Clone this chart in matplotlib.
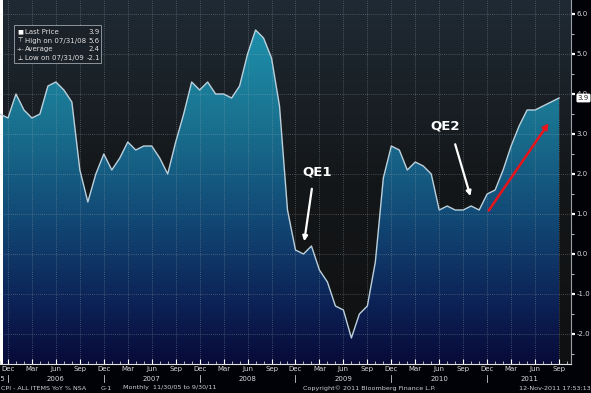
import numpy as np
import matplotlib
matplotlib.use('Agg')
import matplotlib.pyplot as plt
from matplotlib.colors import LinearSegmentedColormap
from matplotlib.transforms import blended_transform_factory
from matplotlib.patches import Rectangle

# CPI YoY % (mensual, 11/2005 a 9/2011)
cpi_2005 = [3.5, 3.4]
cpi_2006 = [4.0, 3.6, 3.4, 3.5, 4.2, 4.3, 4.1, 3.8, 2.1, 1.3, 2.0, 2.5]
cpi_2007 = [2.1, 2.4, 2.8, 2.6, 2.7, 2.7, 2.4, 2.0, 2.8, 3.5, 4.3, 4.1]
cpi_2008 = [4.3, 4.0, 4.0, 3.9, 4.2, 5.0, 5.6, 5.4, 4.9, 3.7, 1.1, 0.1]
cpi_2009 = [0.0, 0.2, -0.4, -0.7, -1.3, -1.4, -2.1, -1.5, -1.3, -0.2, 1.9, 2.7]
cpi_2010 = [2.6, 2.1, 2.3, 2.2, 2.0, 1.1, 1.2, 1.1, 1.1, 1.2, 1.1, 1.5]
cpi_2011 = [1.6, 2.1, 2.7, 3.2, 3.6, 3.6, 3.7, 3.8, 3.9]
cpi = np.array(cpi_2005 + cpi_2006 + cpi_2007 + cpi_2008 + cpi_2009 + cpi_2010 + cpi_2011)

month_names = ['Jan', 'Feb', 'Mar', 'Apr', 'May', 'Jun', 'Jul', 'Aug', 'Sep', 'Oct', 'Nov', 'Dec']
first_month = 11   # noviembre
first_year = 2005
years = [2005, 2006, 2007, 2008, 2009, 2010, 2011]

legend_labels = ['Last Price', 'High on 07/31/08', 'Average', 'Low on 07/31/09']
legend_values = ['3.9', '5.6', '2.4', '-2.1']

# indice de mes
x = np.arange(len(cpi))
mes = [(first_month - 1 + i) % 12 + 1 for i in x]
anio = [first_year + (first_month - 1 + i) // 12 for i in x]

xmin, xmax = 0.38, 71.5
ymin, ymax = -2.75, 6.35

fig = plt.figure(figsize=(5.91, 3.93), dpi=100, facecolor='#010208')
ax = fig.add_axes([0, 29/393, 571/591, 1 - 29/393])
ax.set_xlim(xmin, xmax)
ax.set_ylim(ymin, ymax)

# fondo con degradado
bg = LinearSegmentedColormap.from_list('bg', ['#0f1012', '#141719', '#1f2a34'])
grad = np.linspace(1, 0, 256).reshape(-1, 1)
ax.imshow(grad, extent=[xmin, xmax, ymin, ymax], aspect='auto', cmap=bg,
          vmin=0, vmax=1, zorder=0.1, interpolation='bilinear')

# area rellena con degradado
fc = LinearSegmentedColormap.from_list('fill', [(0.0, '#080b38'), (0.16, '#0c2155'),
                                                (0.41, '#124a76'), (0.69, '#1a7592'),
                                                (1.0, '#1f98b3')])
im = ax.imshow(grad, extent=[xmin, xmax, ymin, ymax], aspect='auto', cmap=fc,
               vmin=0, vmax=1, zorder=0.5, interpolation='bilinear')
poly = ax.fill_between(x, cpi, ymin, facecolor='none', edgecolor='none')
im.set_clip_path(poly.get_paths()[0], transform=ax.transData)

ax.plot(x, cpi, color='#bcd0dc', lw=1.0, zorder=3)

# grilla
quarter = [i for i in x if mes[i] in (12, 3, 6, 9)]
ax.set_xticks(quarter)
ax.set_xticklabels([month_names[mes[i] - 1] for i in quarter])
ax.set_xticks(np.arange(0, 72), minor=True)
ax.set_yticks(np.arange(-2, 7, 1.0))
ax.set_yticks(np.arange(-2.5, 6.5, 0.5), minor=True)
ax.set_yticklabels(['%.1f' % v for v in np.arange(-2, 7, 1.0)])
ax.grid(True, which='major', color='#a8b2bc', alpha=0.45, lw=0.6, linestyle=(0, (1, 1.5)))
ax.set_axisbelow('line')

ax.yaxis.tick_right()
ax.tick_params(axis='y', which='major', direction='out', length=3, width=1.6,
               color='white', labelcolor='#d8d8d8', labelsize=5, pad=1)
ax.tick_params(axis='y', which='minor', direction='out', length=2, width=0.7, color='#c0c0c0')
ax.tick_params(axis='x', which='major', direction='in', length=3.5, width=0.8,
               color='white', labelcolor='#d8d8d8', labelsize=5, pad=1.5)
ax.tick_params(axis='x', which='minor', direction='in', length=2, width=0.6, color='#d0d0d0')

for s in ['top', 'left']:
    ax.spines[s].set_visible(False)
ax.spines['right'].set_color('#9aa0a6')
ax.spines['right'].set_linewidth(0.8)
ax.spines['bottom'].set_color('#e0e0e0')
ax.spines['bottom'].set_linewidth(0.8)

# etiquetas de anios y separadores
trans = blended_transform_factory(ax.transData, ax.transAxes)
dec = [i for i in x if mes[i] == 12]
for d in dec:
    ax.plot([d, d], [-0.029, -0.05], color='#c8c8c8', lw=0.6, transform=trans, clip_on=False)
limites = [xmin - 12] + dec + [xmax]
for k, yr in enumerate(years):
    if yr == 2005:
        ax.text(dec[0] - 0.4, -0.041, str(yr), transform=trans, ha='right', va='center',
                fontsize=5, color='#d8d8d8')
    else:
        c = (limites[k] + min(limites[k + 1], xmax)) / 2
        ax.text(c, -0.041, str(yr), transform=trans, ha='center', va='center',
                fontsize=5, color='#d8d8d8')

# etiqueta del ultimo precio
ty = blended_transform_factory(ax.transAxes, ax.transData)
ax.text(1.012, cpi[-1], '%.1f' % cpi[-1], transform=ty, ha='left', va='center', fontsize=5,
        color='#202020', bbox=dict(boxstyle='round,pad=0.2', fc='white', ec='none'),
        clip_on=False, zorder=5)

# anotaciones QE1 / QE2
ax.text(39.7, 2.06, 'QE1', color='white', fontsize=9.5, fontweight='bold', ha='center', va='center', zorder=5)
ax.annotate('', xy=(38.05, 0.25), xytext=(39.1, 1.7), zorder=5,
            arrowprops=dict(arrowstyle='-|>', color='white', lw=1.6, mutation_scale=7))
ax.text(55.7, 3.2, 'QE2', color='white', fontsize=9.5, fontweight='bold', ha='center', va='center', zorder=5)
ax.annotate('', xy=(59.0, 1.38), xytext=(56.9, 2.81), zorder=5,
            arrowprops=dict(arrowstyle='-|>', color='white', lw=1.6, mutation_scale=7))
ax.annotate('', xy=(68.9, 3.33), xytext=(61.0, 1.03), zorder=5,
            arrowprops=dict(arrowstyle='-|>', color='#e8141c', lw=1.8, mutation_scale=8))

# leyenda (dibujada a mano, estilo Bloomberg)
def fx(px):
    return px / 591

def fy(py):
    return 1 - py / 393

fig.patches.append(Rectangle((fx(14), fy(63)), fx(101) - fx(14), fy(25) - fy(63),
                             transform=fig.transFigure, fc='#1b2129', ec='#8c939b', lw=0.7, zorder=4))
simbolos = ['\u25a0', '\u22a4', '-+-', '\u22a5']
filas = [32.3, 40.7, 49.3, 58.0]
for s, lab, val, py in zip(simbolos, legend_labels, legend_values, filas):
    fig.text(fx(20.5), fy(py), s, color='white', fontsize=4.5 if s != '-+-' else 3.5,
             ha='center', va='center', zorder=5)
    fig.text(fx(25), fy(py), lab, color='#e0e0e0', fontsize=5, ha='left', va='center', zorder=5)
    fig.text(fx(100), fy(py), val, color='#e0e0e0', fontsize=5, ha='right', va='center', zorder=5)

# pie de pagina
fig.text(fx(1), fy(388), 'CPI - ALL ITEMS YoY % NSA', color='#d0d0d0', fontsize=4.6, ha='left', va='center')
fig.text(fx(101), fy(388), 'G-1', color='#d0d0d0', fontsize=4.6, ha='left', va='center')
fig.text(fx(123), fy(388), 'Monthly  11/30/05 to 9/30/11', color='#d0d0d0', fontsize=4.6, ha='left', va='center')
fig.text(fx(303), fy(388.5), 'Copyright\u00a9 2011 Bloomberg Finance L.P.', color='#d0d0d0', fontsize=4.6,
         ha='left', va='center')
fig.text(fx(591), fy(388.5), '12-Nov-2011 17:53:13', color='#d0d0d0', fontsize=4.6, ha='right', va='center')

plt.savefig('out.png', dpi=100, facecolor=fig.get_facecolor())
